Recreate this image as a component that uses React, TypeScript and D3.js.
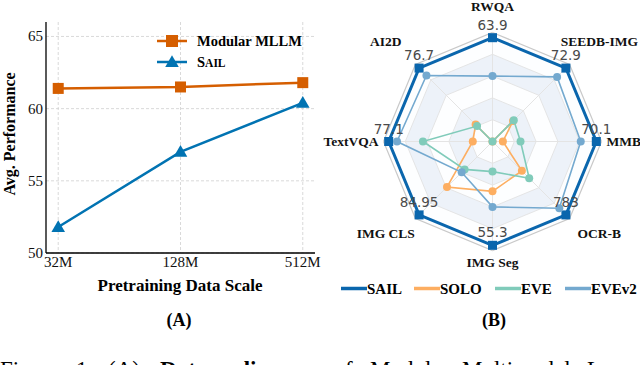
import React from 'react';
import * as d3 from 'd3';

// (A) data scaling
const dataScales = ['32M', '128M', '512M'];
const modularScores = [61.4, 61.5, 61.8];
const sailScores = [51.8, 57.0, 60.4];
const yTicks = [50, 55, 60, 65];

// (B) radar, values relative to SAIL (SAIL = 1 on every axis)
const benchmarks = ['RWQA', 'SEEDB-IMG', 'MMB', 'OCR-B', 'IMG Seg', 'IMG CLS', 'TextVQA', 'AI2D'];
const sailLabels = ['63.9', '72.9', '70.1', '783', '55.3', '84.95', '77.1', '76.7'];
const sailRel = [1, 1, 1, 1, 1, 1, 1, 1];
const soloRel = [0, 0.28, 0.1, 0.4, 0.48, 0.62, 0.19, 0.23];
const eveRel = [0, 0.29, 0.27, 0.5, 0.29, 0.38, 0.67, 0.21];
const eve2Rel = [0.63, 0.88, 0.85, 0.91, 0.63, 0.42, 0.92, 0.9];

const serif = "'Liberation Serif', 'Times New Roman', serif";
const sans = "'DejaVu Sans', sans-serif";

const orange = '#d55e00';
const blue = '#0173b2';

const radarSeries = [
  { name: 'SAIL', values: sailRel, color: '#0a66ad', width: 3 },
  { name: 'SOLO', values: soloRel, color: '#fdae61', width: 1.6 },
  { name: 'EVE', values: eveRel, color: '#80cbba', width: 1.6 },
  { name: 'EVEv2', values: eve2Rel, color: '#74a9cf', width: 1.6 },
];

// caption below the figure (cut off by the page edge)
const captionWords = [
  { t: 'Figure', x: 0 },
  { t: '1:', x: 76 },
  { t: '(A)', x: 108 },
  { t: 'Data', x: 160, b: true },
  { t: 'scaling', x: 213, b: true },
  { t: 'curves', x: 284 },
  { t: 'for', x: 345 },
  { t: 'Modular', x: 370 },
  { t: 'Multimodal', x: 462 },
  { t: 'L', x: 587 },
];

function LeftChart() {
  const x = d3.scalePoint().domain(dataScales).range([46, 315]).padding(0.1);
  const y = d3.scaleLinear().domain([50, 66]).range([253, 22]);
  const line = d3
    .line<number>()
    .x((_, i) => x(dataScales[i]) as number)
    .y((d) => y(d));
  const tri = d3.symbol().type(d3.symbolTriangle).size(80)();

  return (
    <g>
      {/* grid */}
      {yTicks.map((t) => (
        <line key={'gy' + t} x1={46} x2={315} y1={y(t)} y2={y(t)} stroke="#cfcfcf" strokeWidth={0.8} strokeDasharray="3,2" />
      ))}
      {dataScales.map((s) => (
        <line key={'gx' + s} x1={x(s)} x2={x(s)} y1={22} y2={253} stroke="#cfcfcf" strokeWidth={0.8} strokeDasharray="3,2" />
      ))}
      {/* spines */}
      <line x1={46} x2={46} y1={22} y2={253} stroke="#000" strokeWidth={1.3} />
      <line x1={46} x2={315} y1={253} y2={253} stroke="#000" strokeWidth={1.3} />
      {yTicks.map((t) => (
        <text key={'ty' + t} x={43} y={y(t) + 5} textAnchor="end" fontFamily={serif} fontSize={15} fill="#111">
          {t}
        </text>
      ))}
      {dataScales.map((s) => (
        <text key={'tx' + s} x={x(s)} y={267} textAnchor="middle" fontFamily={serif} fontSize={15} fill="#111">
          {s}
        </text>
      ))}
      <text
        transform="translate(15,134) rotate(-90)"
        textAnchor="middle"
        fontFamily={serif}
        fontWeight="bold"
        fontSize={16}
      >
        Avg. Performance
      </text>
      <text x={180} y={291} textAnchor="middle" fontFamily={serif} fontWeight="bold" fontSize={17}>
        Pretraining Data Scale
      </text>
      <text x={179} y={326} textAnchor="middle" fontFamily={serif} fontWeight="bold" fontSize={18}>
        (A)
      </text>

      {/* lines */}
      <path d={line(modularScores) || ''} fill="none" stroke={orange} strokeWidth={2.5} />
      {modularScores.map((v, i) => (
        <rect key={'m' + i} x={(x(dataScales[i]) as number) - 5.5} y={y(v) - 5.5} width={11} height={11} fill={orange} />
      ))}
      <path d={line(sailScores) || ''} fill="none" stroke={blue} strokeWidth={2.5} />
      {sailScores.map((v, i) => (
        <path key={'s' + i} d={tri || ''} transform={`translate(${x(dataScales[i])},${y(v) + 1})`} fill={blue} />
      ))}

      {/* legend */}
      <line x1={157} x2={187} y1={41} y2={41} stroke={orange} strokeWidth={2.5} />
      <rect x={166} y={35} width={12} height={12} fill={orange} />
      <text x={197} y={46} fontFamily={serif} fontWeight="bold" fontSize={14.5}>
        Modular MLLM
      </text>
      <line x1={157} x2={187} y1={62} y2={62} stroke={blue} strokeWidth={2.5} />
      <path d={tri || ''} transform="translate(172,63)" fill={blue} />
      <text x={197} y={67} fontFamily={serif} fontWeight="bold" fontSize={14.5}>
        S<tspan fontSize={11.5}>AIL</tspan>
      </text>
    </g>
  );
}

function RadarChart() {
  const cx = 492.5;
  const cy = 141.5;
  const r = d3.scaleLinear().domain([0, 1.05]).range([0, 109]);
  const step = (2 * Math.PI) / benchmarks.length;
  const radial = (vals: number[]) =>
    d3
      .lineRadial<number>()
      .angle((_, i) => i * step)
      .radius((d) => r(d))
      .curve(d3.curveLinearClosed)(vals) || '';
  const pt = (v: number, i: number) => [r(v) * Math.sin(i * step), -r(v) * Math.cos(i * step)];
  const levels = d3.range(5, 0, -1).map((k) => (k * 1.05) / 5);
  const ring = (lv: number) => radial(benchmarks.map(() => lv));

  return (
    <g>
      <g transform={`translate(${cx},${cy})`}>
        {levels.map((lv, j) => (
          <path key={'ring' + j} d={ring(lv)} fill={j % 2 === 1 ? '#edf2f9' : '#fdfeff'} stroke={j === 0 ? '#c9c9c9' : '#e2e2e2'} strokeWidth={j === 0 ? 1.2 : 0.9} />
        ))}
        {benchmarks.map((b, i) => {
          const [px, py] = pt(1.05, i);
          return <line key={'sp' + b} x1={0} y1={0} x2={px} y2={py} stroke="#e4e4e4" strokeWidth={1} />;
        })}
        {radarSeries.map((s) => (
          <g key={s.name}>
            <path d={radial(s.values)} fill="none" stroke={s.color} strokeWidth={s.width} strokeLinejoin="miter" />
            {s.values.map((v, i) => {
              const [px, py] = pt(v, i);
              return s.name === 'SAIL' ? (
                <rect key={i} x={px - 4.5} y={py - 4.5} width={9} height={9} fill={s.color} />
              ) : (
                <circle key={i} cx={px} cy={py} r={4} fill={s.color} />
              );
            })}
          </g>
        ))}
        {sailLabels.map((lab, i) => {
          const [px, py] = pt(sailRel[i], i);
          return (
            <text key={'v' + i} x={px} y={py - 8} textAnchor="middle" fontFamily={sans} fontSize={13.5} fill="#4a4a4a">
              {lab}
            </text>
          );
        })}
        {benchmarks.map((b, i) => {
          const a = i * step;
          const sx = Math.sin(a);
          const cs = Math.cos(a);
          const horizontal = Math.abs(sx) > 0.9;
          const lx = sx * (horizontal ? 114 : 151);
          const ry = 128 + 8 * Math.abs(Math.sin(2 * a)) + 7.5 * cs;
          const ly = -cs * ry;
          return (
            <text
              key={'lab' + b}
              x={lx}
              y={ly + 4.5}
              textAnchor={horizontal ? (sx > 0 ? 'start' : 'end') : 'middle'}
              fontFamily={serif}
              fontWeight="bold"
              fontSize={13.5}
              fill="#111"
            >
              {b}
            </text>
          );
        })}
      </g>
      {/* legend */}
      {radarSeries.map((s, i) => {
        const lx = [341, 414, 495, 565][i];
        return (
          <g key={'lg' + s.name}>
            <line x1={lx} x2={lx + 26} y1={288.5} y2={288.5} stroke={s.color} strokeWidth={3.5} />
            <text x={lx + 26} y={294} fontFamily={serif} fontWeight="bold" fontSize={15}>
              {s.name}
            </text>
          </g>
        );
      })}
      <text x={494} y={326} textAnchor="middle" fontFamily={serif} fontWeight="bold" fontSize={18}>
        (B)
      </text>
    </g>
  );
}

export default function App() {
  return (
    <svg width={640} height={365} style={{ position: 'absolute', left: 0, top: 0, background: '#fff' }}>
      <LeftChart />
      <RadarChart />
      {captionWords.map((w) => (
        <text key={w.t} x={w.x} y={377} fontFamily={serif} fontSize={23} fontWeight={w.b ? 'bold' : 'normal'}>
          {w.t}
        </text>
      ))}
    </svg>
  );
}
